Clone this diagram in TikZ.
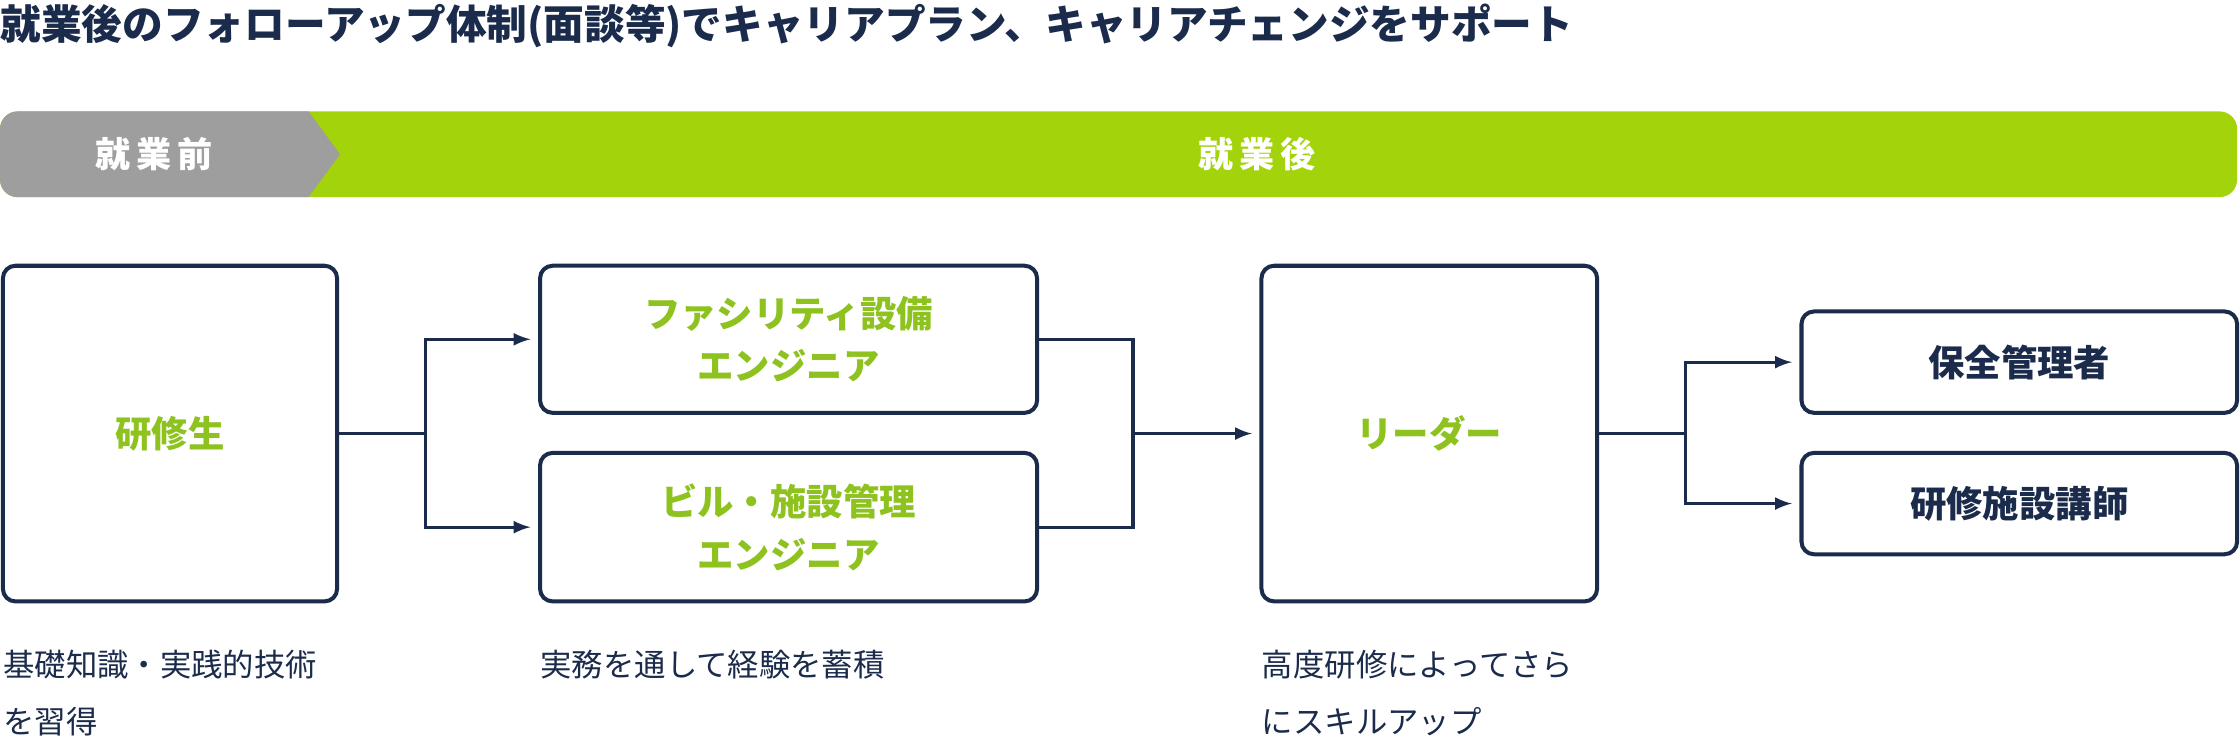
\documentclass[tikz,border=0pt]{standalone}
\usepackage{fontspec}
\setmainfont{Noto Sans CJK JP}
\usetikzlibrary{positioning}
\definecolor{navy}{HTML}{1B2B4B}
\definecolor{leaf}{HTML}{A3D30A}
\definecolor{leaftext}{HTML}{8DC21F}
\definecolor{stone}{HTML}{9E9E9E}
\begin{document}
\begin{tikzpicture}
    [
    x=0.02cm,y=-0.02cm,
    box/.style={draw=navy,line width=1.6pt,rounded corners=5pt,fill=white,align=center,font=\fontsize{14.5}{21}\selectfont\bfseries,inner sep=0pt},
    note/.style={anchor=north west,align=left,text=navy,font=\fontsize{12.5}{22.7}\selectfont,inner sep=0pt},
    link/.style={draw=navy,line width=1.3pt}
    ]
    \useasboundingbox (0,0) rectangle (1568,527);
    \node (title) at (0,18) [anchor=west,inner sep=0pt,text=navy,font=\fontsize{16.2}{18}\selectfont\bfseries] {就業後のフォローアップ体制(面談等)でキャリアプラン、キャリアチェンジをサポート};

    \fill [leaf,rounded corners=7pt] (0,78) rectangle (1566,138);
    \fill [stone,rounded corners=7pt] (0,78) -- (30,78) [sharp corners] -- (216,78) -- (238,108) -- (216,138) [rounded corners=7pt] -- (0,138) -- cycle;
    \node (before) at (108,108) [text=white,font=\fontsize{14}{16}\selectfont\bfseries] {就\,業\,前};
    \node (after) at (880,108) [text=white,font=\fontsize{14}{16}\selectfont\bfseries] {就\,業\,後};

    \node (trainee) at (119,303.5) [box,text width=4.68cm,minimum height=4.7cm,text=leaftext] {研修生};
    \node (facility) at (552,237.5) [box,text width=6.96cm,minimum height=2.06cm,text=leaftext] {ファシリティ設備\\エンジニア};
    \node (building) at (552,369) [box,text width=6.96cm,minimum height=2.08cm,text=leaftext] {ビル・施設管理\\エンジニア};
    \node (leader) at (1000.5,303.5) [box,text width=4.7cm,minimum height=4.7cm,text=leaftext] {リーダー};
    \node (keeper) at (1413.5,253.5) [box,text width=6.1cm,minimum height=1.42cm,text=navy] {保全管理者};
    \node (teacher) at (1413.5,352.5) [box,text width=6.1cm,minimum height=1.42cm,text=navy] {研修施設講師};

    \coordinate (split1) at (298,303.5);
    \coordinate (join) at (793,303.5);
    \coordinate (split2) at (1180,303.5);
    \draw [link] (trainee.east) -- (split1);
    \draw [link,-latex] (split1) |- ([xshift=-3pt]facility.west);
    \draw [link,-latex] (split1) |- ([xshift=-3pt]building.west);
    \draw [link] (facility.east) -| (join);
    \draw [link] (building.east) -| (join);
    \draw [link,-latex] (join) -- ([xshift=-3pt]leader.west);
    \draw [link] (leader.east) -- (split2);
    \draw [link,-latex] (split2) |- ([xshift=-3pt]keeper.west);
    \draw [link,-latex] (split2) |- ([xshift=-3pt]teacher.west);

    \node (note1) at (2,455) [note] {基礎知識・実践的技術\\を習得};
    \node (note2) at (378,455) [note] {実務を通して経験を蓄積};
    \node (note3) at (883,455) [note] {高度研修によってさら\\にスキルアップ};
\end{tikzpicture}
\end{document}
